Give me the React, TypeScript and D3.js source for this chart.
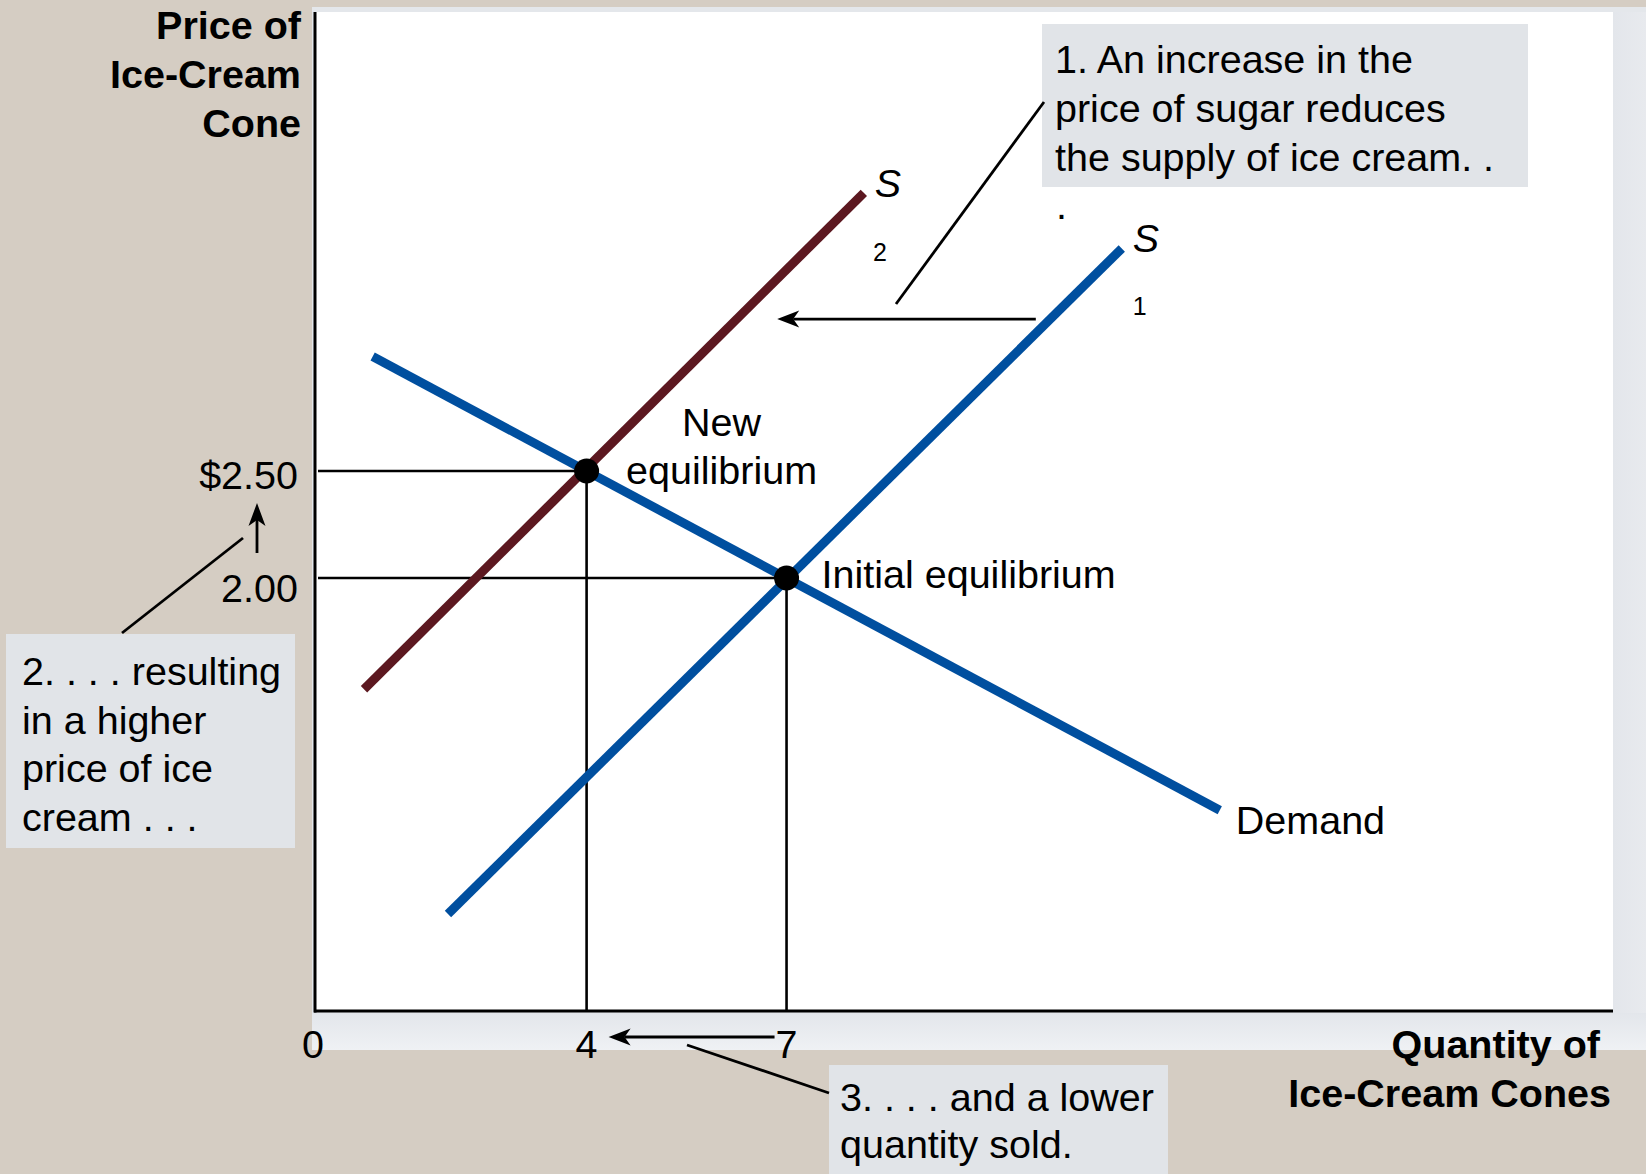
import React, { useEffect } from "react";
import * as d3 from "d3";

// ---------- data ----------
const quantityTicks = [0, 4, 7];
const quantityTickLabels = ["0", "4", "7"];
const priceTicks = [2.5, 2.0];
const priceTickLabels = ["$2.50", "2.00"];

const demandQ = [0.79, 13.5];
const demandP = [3.035, 0.915];
const supply1Q = [1.92, 12.03];
const supply1P = [0.43, 3.54];
const supply2Q = [0.66, 8.16];
const supply2P = [1.48, 3.8];

const equilibriumQ = [4, 7];
const equilibriumP = [2.5, 2.0];

const yTitle = ["Price of", "Ice-Cream", "Cone"];
const xTitle = ["Quantity of", "Ice-Cream Cones"];
const note1 = ["1. An increase in the", "price of sugar reduces", "the supply of ice cream. ."];
const note2 = ["2. . . . resulting", "in a higher", "price of ice", "cream . . ."];
const note3 = ["3. . . . and a lower", "quantity sold."];

// ---------- layout ----------
const W = 1646;
const H = 1174;
const FONT = "'Liberation Sans', Arial, Helvetica, sans-serif";
const FS = 39.5;
const BEIGE = "#d5cdc3";
const PANEL = "#e4e7eb";
const BOX = "#e1e4e8";
const BLUE = "#004f9f";
const MAROON = "#5c1820";
const priceLabelDy = [18, 24];

export default function App() {
  useEffect(() => {
    document.body.style.margin = "0";
  }, []);

  const x = d3.scaleLinear().domain([-0.09, 19.4]).range([314, 1613]);
  const y = d3.scaleLinear().domain([-0.0234, 4.645]).range([1011, 12]);

  const line = d3
    .line<[number, number]>()
    .x((d) => x(d[0]))
    .y((d) => y(d[1]));

  const pts = (qs: number[], ps: number[]) =>
    qs.map((q, i) => [q, ps[i]] as [number, number]);

  const demand = pts(demandQ, demandP);
  const s1 = pts(supply1Q, supply1P);
  const s2 = pts(supply2Q, supply2P);

  const [x0, x1] = x.range();
  const [yb, yt] = y.range();

  const arrowLeft = (tx: number, ty: number) =>
    `M${tx},${ty} L${tx + 22},${ty - 8.5} L${tx + 16},${ty} L${tx + 22},${ty + 8.5} Z`;
  const arrowUp = (tx: number, ty: number) =>
    `M${tx},${ty} L${tx - 8.5},${ty + 23} L${tx},${ty + 17} L${tx + 8.5},${ty + 23} Z`;

  const textProps = { fontFamily: FONT, fontSize: FS, fill: "#000" };

  const s1End = s1[1];
  const s2End = s2[1];
  const dEnd = demand[1];

  // supply shift arrow (price level / quantities in data units)
  const shiftP = 3.21;
  const shiftFrom = 10.74;
  const shiftTo = 6.86;

  return (
    <svg
      width={W}
      height={H}
      style={{ position: "absolute", left: 0, top: 0, display: "block" }}
    >
      <defs>
        <linearGradient id="band" x1="0" y1="0" x2="0" y2="1">
          <stop offset="0" stopColor="#e3e6eb" />
          <stop offset="1" stopColor="#eff1f4" />
        </linearGradient>
        <linearGradient id="right" x1="0" y1="0" x2="1" y2="0">
          <stop offset="0" stopColor="#e3e6eb" />
          <stop offset="1" stopColor="#e8eaee" />
        </linearGradient>
      </defs>
      <rect x={0} y={0} width={W} height={H} fill={BEIGE} />
      {/* grey panel */}
      <rect x={312} y={7} width={W - 312} height={1050 - 7} fill={PANEL} />
      <rect x={312} y={1013} width={W - 312} height={37} fill="url(#band)" />
      <rect x={1613} y={12} width={W - 1613} height={1001} fill="url(#right)" />
      {/* white plot */}
      <rect x={x0} y={yt} width={x1 - x0} height={yb - yt} fill="#fff" />

      {/* guide lines */}
      {equilibriumQ.map((q, i) => (
        <g key={"g" + i} stroke="#000" strokeWidth={2.6}>
          <line x1={x0 + 4} x2={x(q)} y1={y(equilibriumP[i])} y2={y(equilibriumP[i])} />
          <line x1={x(q)} x2={x(q)} y1={y(equilibriumP[i])} y2={yb} />
        </g>
      ))}

      {/* curves */}
      <path d={line(s2) || ""} stroke={MAROON} strokeWidth={9} fill="none" />
      <path d={line(s1) || ""} stroke={BLUE} strokeWidth={9} fill="none" />
      <path d={line(demand) || ""} stroke={BLUE} strokeWidth={9} fill="none" />

      {/* axes */}
      <line x1={x0 + 1} x2={x0 + 1} y1={yt} y2={yb + 1.5} stroke="#000" strokeWidth={3} />
      <line x1={x0} x2={x1} y1={yb} y2={yb} stroke="#000" strokeWidth={3} />

      {/* equilibrium dots */}
      {equilibriumQ.map((q, i) => (
        <circle key={"d" + i} cx={x(q)} cy={y(equilibriumP[i])} r={12.5} fill="#000" />
      ))}

      {/* curve labels */}
      <text {...textProps} fontStyle="italic" x={x(s2End[0]) + 11} y={y(s2End[1]) + 4}>S</text>
      <text {...textProps} fontSize={25} textAnchor="middle" x={x(s2End[0]) + 16} y={y(s2End[1]) + 68}>2</text>
      <text {...textProps} fontStyle="italic" x={x(s1End[0]) + 11} y={y(s1End[1]) + 4}>S</text>
      <text {...textProps} fontSize={25} textAnchor="middle" x={x(s1End[0]) + 18} y={y(s1End[1]) + 67}>1</text>
      <text {...textProps} x={x(dEnd[0]) + 16} y={y(dEnd[1]) + 24}>Demand</text>

      <text {...textProps} textAnchor="middle" x={x(equilibriumQ[0]) + 135} y={y(equilibriumP[0]) - 35}>New</text>
      <text {...textProps} textAnchor="middle" x={x(equilibriumQ[0]) + 135} y={y(equilibriumP[0]) + 13}>equilibrium</text>
      <text {...textProps} x={x(equilibriumQ[1]) + 35} y={y(equilibriumP[1]) + 10}>Initial equilibrium</text>

      {/* tick labels */}
      {priceTicks.map((p, i) => (
        <text key={"pt" + i} {...textProps} textAnchor="end" x={298} y={y(p) + priceLabelDy[i]}>
          {priceTickLabels[i]}
        </text>
      ))}
      {quantityTicks.map((q, i) => (
        <text key={"qt" + i} {...textProps} textAnchor="middle" x={x(q) + (q === 0 ? -7 : 0)} y={1058}>
          {quantityTickLabels[i]}
        </text>
      ))}

      {/* axis titles */}
      {yTitle.map((t, i) => (
        <text key={"yt" + i} {...textProps} fontWeight="bold" textAnchor="end" x={301} y={39 + i * 49}>
          {t}
        </text>
      ))}
      <text {...textProps} fontWeight="bold" textAnchor="end" x={1600} y={1058}>{xTitle[0]}</text>
      <text {...textProps} fontWeight="bold" textAnchor="end" x={1611} y={1107}>{xTitle[1]}</text>

      {/* annotation 1 */}
      <rect x={1042} y={24} width={486} height={163} fill={BOX} />
      {note1.map((t, i) => (
        <text key={"n1" + i} {...textProps} x={1055} y={73 + i * 49}>{t}</text>
      ))}
      <text {...textProps} x={1056} y={219}>.</text>
      <line x1={896} y1={304} x2={1044} y2={102} stroke="#000" strokeWidth={2.8} />
      <line x1={x(shiftFrom)} x2={x(shiftTo) + 16} y1={y(shiftP)} y2={y(shiftP)} stroke="#000" strokeWidth={2.8} />
      <path d={arrowLeft(x(shiftTo), y(shiftP))} fill="#000" />

      {/* annotation 2 */}
      <rect x={6} y={634} width={289} height={214} fill={BOX} />
      {note2.map((t, i) => (
        <text key={"n2" + i} {...textProps} x={22} y={685 + i * 48.5}>{t}</text>
      ))}
      <line x1={122} y1={633} x2={243} y2={538} stroke="#000" strokeWidth={2.8} />
      <line x1={257} x2={257} y1={520} y2={553} stroke="#000" strokeWidth={2.8} />
      <path d={arrowUp(257, 503)} fill="#000" />

      {/* annotation 3 */}
      <rect x={829} y={1065} width={339} height={H - 1065} fill={BOX} />
      {note3.map((t, i) => (
        <text key={"n3" + i} {...textProps} x={840} y={1111 + i * 47}>{t}</text>
      ))}
      <line x1={687} y1={1045} x2={829} y2={1093} stroke="#000" strokeWidth={2.8} />
      <line x1={x(equilibriumQ[1]) - 12} x2={x(equilibriumQ[0]) + 38} y1={1037} y2={1037} stroke="#000" strokeWidth={2.8} />
      <path d={arrowLeft(x(equilibriumQ[0]) + 22, 1037)} fill="#000" />
    </svg>
  );
}
